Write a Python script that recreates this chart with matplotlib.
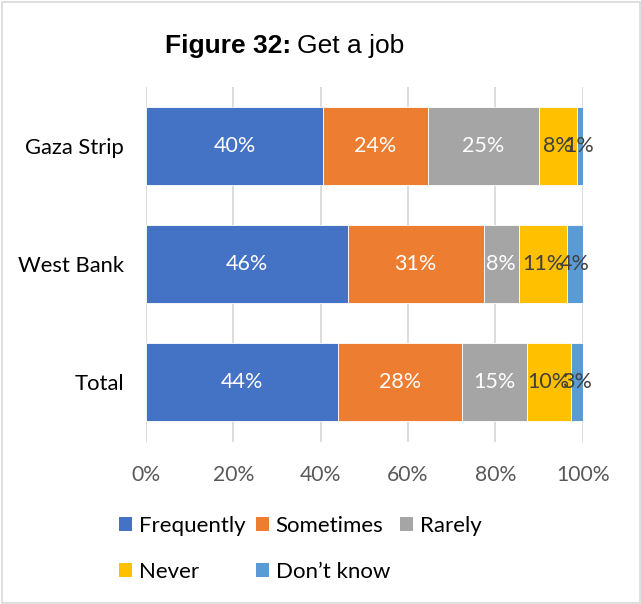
import matplotlib
matplotlib.use("Agg")
import matplotlib.pyplot as plt
from matplotlib.patches import Patch, Rectangle

categories = ["Gaza Strip", "West Bank", "Total"]
series = ["Frequently", "Sometimes", "Rarely", "Never", "Don\u2019t know"]
colors = ["#4472C4", "#ED7D31", "#A5A5A5", "#FFC000", "#5B9BD5"]
label_colors = ["white", "white", "white", "#404040", "#404040"]

frequently = [40.6, 46.2, 44.0]
sometimes = [23.9, 31.1, 28.4]
rarely = [25.6, 8.0, 14.8]
never = [8.5, 11.2, 10.1]
dont_know = [1.4, 3.5, 2.7]
values = [frequently, sometimes, rarely, never, dont_know]

labels_freq = ["40%", "46%", "44%"]
labels_some = ["24%", "31%", "28%"]
labels_rare = ["25%", "8%", "15%"]
labels_never = ["8%", "11%", "10%"]
labels_dk = ["1%", "4%", "3%"]
labels = [labels_freq, labels_some, labels_rare, labels_never, labels_dk]

xticks = [0, 20, 40, 60, 80, 100]
xtick_labels = ["0%", "20%", "40%", "60%", "80%", "100%"]

plt.rcParams['font.family'] = ['Lato', 'DejaVu Sans']

W, H = 641, 604
fig = plt.figure(figsize=(W / 100, H / 100), dpi=100)
ax = fig.add_axes([146 / W, (604 - 441.5) / H, (582.7 - 146) / W, (441.5 - 87) / H])

ypos = list(range(len(categories)))
left = [0.0] * len(categories)
handles = []
for s, vals, col, labs, lc in zip(series, values, colors, labels, label_colors):
    bars = ax.barh(ypos, vals, left=left, height=0.66, color=col,
                   edgecolor="white", linewidth=0.6, label=s, zorder=3)
    for b, v, l, t in zip(bars, vals, left, labs):
        ax.text(l + v / 2, b.get_y() + b.get_height() / 2, t,
                ha="center", va="center", color=lc, fontsize=15.5, zorder=4)
    left = [a + b for a, b in zip(left, vals)]
    handles.append(Patch(facecolor=col, edgecolor="none", label=s))

ax.set_ylim(len(categories) - 0.5, -0.5)
ax.set_xlim(0, 100)
ax.set_yticks(ypos)
ax.set_yticklabels(categories, fontsize=15.8, color="black")
ax.set_xticks(xticks)
ax.set_xticklabels(xtick_labels, fontsize=15.2, color="#595959")
ax.tick_params(axis="y", length=0, pad=16)
ax.tick_params(axis="x", length=0, pad=17)
for sp in ax.spines.values():
    sp.set_visible(False)
ax.grid(axis="x", color="#D9D9D9", linewidth=1.3, zorder=0)
ax.set_axisbelow(True)

# title in two parts: bold + regular
fig.canvas.draw()
renderer = fig.canvas.get_renderer()
t1 = fig.text(165 / W, 1 - 46 / H, "Figure 32:", ha="left", va="center",
              fontsize=19, fontweight="bold", family="Liberation Sans")
bb = t1.get_window_extent(renderer=renderer)
fig.text((bb.x1 + 6) / W, 1 - 46 / H, "Get a job", ha="left", va="center",
         fontsize=19, family="Liberation Sans")

order = [0, 3, 1, 4, 2]
fig.legend([handles[i] for i in order], [series[i] for i in order],
           loc="upper left", bbox_to_anchor=(119 / W, 1 - 516 / H), ncol=3,
           frameon=False, fontsize=16, borderpad=0, borderaxespad=0,
           handlelength=0.6, handleheight=0.6, handletextpad=0.3,
           columnspacing=0.45, labelspacing=1.15)

fig.patches.append(Rectangle((1.5 / W, 1.5 / H), 1 - 3 / W, 1 - 3 / H,
                             transform=fig.transFigure, fill=False,
                             edgecolor="#D9D9D9", linewidth=1.2))

fig.savefig("out.png", dpi=100, facecolor="white")
